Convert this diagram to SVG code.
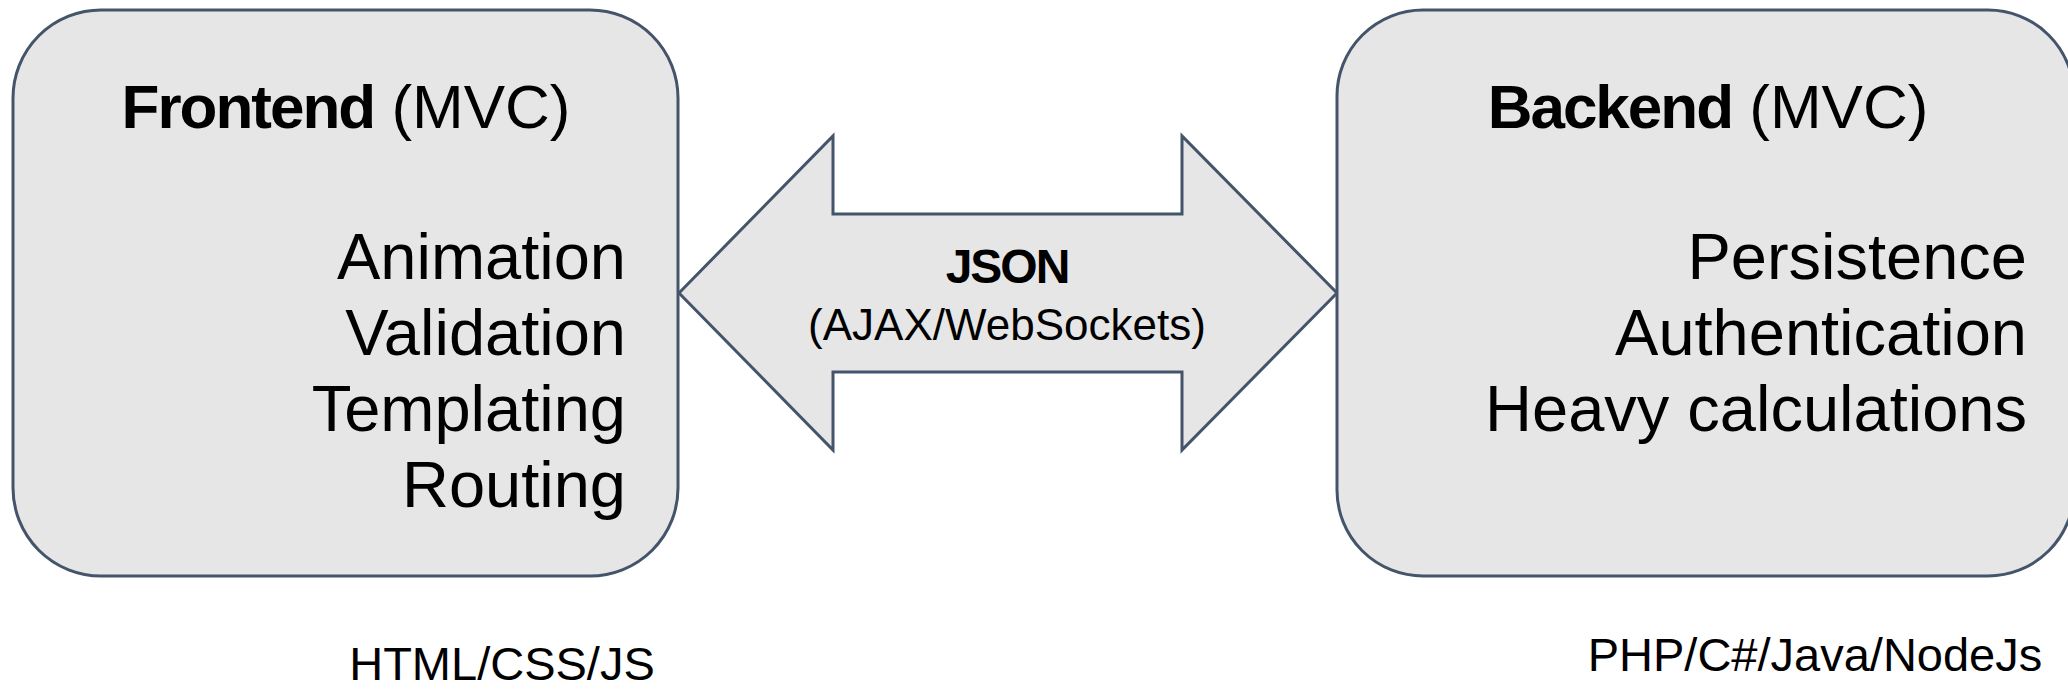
<svg xmlns="http://www.w3.org/2000/svg" width="2068" height="691" viewBox="0 0 2068 691">
  <style>
    .shape { fill: #e6e6e6; stroke: #44546a; stroke-width: 3; stroke-linejoin: miter; }
    text { font-family: "Liberation Sans", Arial, sans-serif; fill: #000; }
    .title { font-size: 62px; }
    .b { font-weight: bold; letter-spacing: -2px; }
    .item { font-size: 65px; text-anchor: end; }
    .tech { font-size: 47px; text-anchor: middle; }
  </style>
  <rect width="2068" height="691" fill="#ffffff"/>

  <g id="connectors">
    <path class="shape" d="M679,293 L833,136 L833,214 L1182,214 L1182,136 L1337,293 L1182,450 L1182,372 L833,372 L833,450 Z"/>
    <text x="1007" y="283" font-size="48" font-weight="bold" text-anchor="middle" letter-spacing="-2">JSON</text>
    <text x="1007" y="340" font-size="44" text-anchor="middle">(AJAX/WebSockets)</text>
  </g>

  <g id="frontend">
    <rect class="shape" x="13" y="10" width="665" height="566" rx="88" ry="88"/>
    <text class="title" x="346" y="128" text-anchor="middle"><tspan class="b">Frontend</tspan> (MVC)</text>
    <text class="item" x="626" y="279">Animation</text>
    <text class="item" x="626" y="355">Validation</text>
    <text class="item" x="626" y="431">Templating</text>
    <text class="item" x="626" y="507">Routing</text>
  </g>

  <g id="backend">
    <rect class="shape" x="1337" y="10" width="737" height="566" rx="86" ry="86"/>
    <text class="title" x="1708" y="128" text-anchor="middle"><tspan class="b">Backend</tspan> (MVC)</text>
    <text class="item" x="2027" y="279">Persistence</text>
    <text class="item" x="2027" y="355">Authentication</text>
    <text class="item" x="2027" y="431">Heavy calculations</text>
  </g>

  <g id="frontend-tech">
    <text class="tech" x="502" y="680">HTML/CSS/JS</text>
  </g>
  <g id="backend-tech">
    <text class="tech" x="1815" y="671" font-size="49">PHP/C#/Java/NodeJs</text>
  </g>
</svg>
